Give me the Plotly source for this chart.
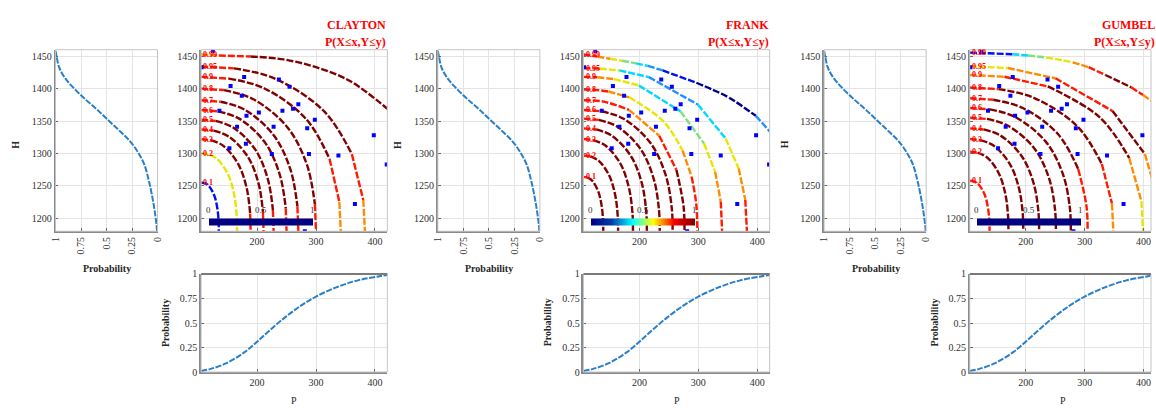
import plotly.graph_objects as go

FIG_W, FIG_H = 1156, 413

# ---------------- data ----------------
LEVEL_LABELS = ["0.99", "0.95", "0.9", "0.8", "0.7", "0.6", "0.5", "0.4", "0.3", "0.2", "0.1"]

H_CDF_H = [1180, 1190, 1223, 1258, 1283, 1300, 1318, 1333, 1350, 1368, 1383, 1403, 1418, 1433, 1450, 1458]
H_CDF_PROB = [0.005, 0.01, 0.04, 0.085, 0.13, 0.185, 0.265, 0.36, 0.475, 0.595, 0.705, 0.835, 0.915, 0.965, 0.99, 1.0]

P_CDF_P = [105, 120, 148, 178, 200, 224, 250, 275, 300, 337, 371, 406, 421]
P_CDF_PROB = [0.01, 0.03, 0.09, 0.2, 0.31, 0.44, 0.57, 0.68, 0.77, 0.87, 0.935, 0.975, 0.99]

OBS_P = [125, 106, 178, 155, 174, 237, 255, 270, 261, 243, 136, 182, 203, 166, 228,
         298, 285, 398, 153, 181, 225, 288, 338, 420, 366, 281]
OBS_H = [1458, 1433, 1418, 1404, 1389, 1414, 1403, 1376, 1369, 1366, 1366, 1358, 1363, 1341, 1341,
         1352, 1339, 1328, 1308, 1315, 1299, 1299, 1297, 1283, 1222, 1180]

CLAYTON_P = [
    [105, 135, 189, 245, 300, 357, 421],
    [105, 160.6, 230, 313.5, 360.8, 380.2, 383],
    [105, 152.4, 211.7, 282.8, 323, 339.6, 342],
    [105, 144, 192.8, 251.3, 284.4, 298, 300],
    [105, 138, 179.3, 228.8, 256.8, 268.4, 270],
    [105, 134, 170.3, 213.8, 238.4, 248.6, 250],
    [105, 129.6, 160.4, 197.3, 218.2, 226.8, 228],
    [105, 126.2, 152.7, 184.5, 202.5, 209.9, 211],
    [105, 121.8, 142.8, 168, 182.3, 188.2, 189],
    [105, 117.2, 132.5, 150.8, 161.1, 165.4, 166],
    [105, 111, 118.5, 127.5, 132.6, 134.7, 135],
]
CLAYTON_H = [
    [1452.5, 1451, 1449.5, 1445, 1433, 1412, 1369],
    [1434, 1431.2, 1415.5, 1365.2, 1298.9, 1228.3, 1180],
    [1418, 1415.4, 1400.6, 1353.5, 1291.4, 1225.2, 1180],
    [1400, 1397.6, 1384, 1340.4, 1283, 1221.8, 1180],
    [1382, 1379.8, 1367.3, 1327.3, 1274.5, 1218.4, 1180],
    [1367, 1364.9, 1353.3, 1316.3, 1267.5, 1215.5, 1180],
    [1352, 1350.1, 1339.4, 1305.4, 1260.5, 1212.7, 1180],
    [1337, 1335.3, 1325.5, 1294.5, 1253.5, 1209.8, 1180],
    [1322, 1320.4, 1311.6, 1283.5, 1246.5, 1207, 1180],
    [1300, 1298.7, 1291.2, 1267.5, 1236.2, 1202.8, 1180],
    [1255, 1254.2, 1249.5, 1234.7, 1215.1, 1194.3, 1180],
]
CLAYTON_C = [
    "o r dr dr dr dr",
    "r dr dr dr r o",
    "r dr dr dr r o",
    "r dr dr dr dr r",
    "r dr dr dr dr r",
    "r dr dr dr dr r",
    "r dr dr dr dr r",
    "r dr dr dr dr r",
    "r dr dr dr dr r",
    "y y y y y y",
    "b b b b b b",
]

FRANK_P = [
    [105, 128.5, 150.4, 170.6, 194.1, 214.3, 239.5, 296.6, 323.5, 352.1, 397.5, 421],
    [105, 132.7, 166, 216, 299.2, 346.3, 368.5, 379.6, 382.4],
    [105, 128.5, 156.8, 199.1, 269.7, 309.7, 328.5, 338, 340.3],
    [105, 124.3, 147.5, 182.3, 240.3, 273.2, 288.6, 296.4, 298.3],
    [105, 139.3, 182.2, 233.6, 262.8, 274.8, 276.5],
    [105, 135.3, 173.1, 218.5, 244.2, 254.8, 256.3],
    [105, 130.9, 163.2, 202.1, 224.1, 233.1, 234.4],
    [105, 126.5, 153.4, 185.7, 204, 211.5, 212.6],
    [105, 121.8, 142.8, 168, 182.3, 188.2, 189],
    [105, 116.8, 131.5, 149.1, 159.1, 163.2, 163.8],
    [105, 111.7, 120.1, 130.2, 135.9, 138.3, 138.6],
]
FRANK_H = [
    [1452.5, 1449.5, 1446, 1443, 1439, 1435, 1428, 1409, 1398.6, 1386, 1358, 1334],
    [1431.5, 1430.9, 1428, 1417.7, 1375.4, 1323.1, 1276.8, 1228.5, 1180],
    [1418, 1417.5, 1414.7, 1404.9, 1364.9, 1315.4, 1271.6, 1225.9, 1180],
    [1398.6, 1398.1, 1395.5, 1386.6, 1349.9, 1304.4, 1264.2, 1222.2, 1180],
    [1382.1, 1379.9, 1367.3, 1327.3, 1274.6, 1219, 1180],
    [1367.1, 1365, 1353.4, 1316.4, 1267.6, 1216.1, 1180],
    [1353.7, 1351.8, 1341, 1306.6, 1261.3, 1213.5, 1180],
    [1338.7, 1337, 1327.1, 1295.7, 1254.3, 1210.6, 1180],
    [1322.2, 1320.6, 1311.8, 1283.7, 1246.5, 1207.4, 1180],
    [1296.8, 1295.5, 1288.3, 1265.1, 1234.7, 1202.5, 1180],
    [1263.8, 1262.9, 1257.7, 1241.1, 1219.2, 1196.2, 1180],
]
FRANK_C = [
    "r o y g c lb b nv nv nv lb",
    "r y c lb c y o r",
    "r o y c g y o r",
    "r r o y y o r r",
    "r r o r dr dr",
    "r dr dr dr dr dr",
    "r dr dr dr dr dr",
    "r dr dr dr dr dr",
    "r dr dr dr dr dr",
    "r dr dr dr dr dr",
    "r dr dr dr dr dr",
]

GUMBEL_P = [
    [105, 135.3, 177.3, 204.2, 234.4, 261.3, 279.8, 306.7, 335.3, 379, 399.2, 421],
    [105, 169.6, 250.4, 347.3, 402.2, 424.8, 428],
    [105, 163.8, 237.4, 325.7, 375.7, 396.3, 399.2],
    [105, 153.7, 214.7, 287.8, 329.2, 346.3, 348.7],
    [105, 145, 195, 255, 289, 303, 305],
    [105, 139.3, 182.2, 233.6, 262.8, 274.8, 276.5],
    [105, 134.2, 170.8, 214.7, 239.5, 249.7, 251.2],
    [105, 128.5, 158, 193.3, 213.3, 221.5, 222.7],
    [105, 123.2, 145.9, 173.1, 188.5, 194.9, 195.8],
    [105, 118.1, 134.5, 154.2, 165.4, 170, 170.6],
    [105, 111.7, 120.1, 130.2, 135.9, 138.3, 138.6],
]
GUMBEL_H = [
    [1455.4, 1454.5, 1453, 1451, 1448, 1444, 1440.5, 1433, 1421, 1402, 1390, 1376],
    [1434.5, 1431.7, 1415.9, 1365.5, 1299.1, 1229.1, 1180],
    [1421, 1418.3, 1403.4, 1355.7, 1292.8, 1226.5, 1180],
    [1401.6, 1399.2, 1385.4, 1341.5, 1283.7, 1222.8, 1180],
    [1385.1, 1382.8, 1370.1, 1329.5, 1276, 1219.6, 1180],
    [1370.1, 1368, 1356.2, 1318.6, 1269, 1216.7, 1180],
    [1355.1, 1353.2, 1342.3, 1307.6, 1261.9, 1213.8, 1180],
    [1338.7, 1337, 1327.1, 1295.7, 1254.3, 1210.6, 1180],
    [1322.2, 1320.6, 1311.8, 1283.7, 1246.5, 1207.4, 1180],
    [1302.8, 1301.4, 1293.8, 1269.5, 1237.5, 1203.7, 1180],
    [1257.8, 1256.9, 1252.1, 1236.7, 1216.4, 1195, 1180],
]
GUMBEL_C = [
    "b b c g y y o r dr r o",
    "y o r dr o y",
    "o r dr dr o y",
    "r dr dr dr r o",
    "r dr dr dr r r",
    "r dr dr dr dr dr",
    "r dr dr dr dr dr",
    "r dr dr dr dr dr",
    "r dr dr dr dr dr",
    "r dr dr dr dr dr",
    "r r r r r r",
]

PANEL_NAMES = ["CLAYTON", "FRANK", "GUMBEL"]
H_TICKS = [1200, 1250, 1300, 1350, 1400, 1450]
P_TICKS = [200, 300, 400]
PROB_TICKS = [0, 0.25, 0.5, 0.75, 1]
PROB_TICK_TEXT = ["0", "0.25", "0.5", "0.75", "1"]

# ---------------- styling ----------------
COLORS = {"dr": "#820000", "r": "#FF1A00", "o": "#FF8C00", "y": "#E6E600", "g": "#7FE07F",
          "c": "#00D8FF", "lb": "#1E90FF", "b": "#0010F0", "nv": "#00008C"}
FONT = "Liberation Serif"
OFFSETS = [0, 386, 776]
PX_PER_P = 316 / 188.0


def xd(a, b):
    return [a / FIG_W, min(b / FIG_W, 1.0)]


def yd(top, bot):
    return [1 - bot / FIG_H, 1 - top / FIG_H]


def kx(k):
    return "xaxis" if k == 1 else f"xaxis{k}"


def ky(k):
    return "yaxis" if k == 1 else f"yaxis{k}"


def rx(k):
    return "x" if k == 1 else f"x{k}"


def ry(k):
    return "y" if k == 1 else f"y{k}"


fig = go.Figure()
layout = dict(width=FIG_W, height=FIG_H, margin=dict(l=0, r=0, t=0, b=0),
              paper_bgcolor="white", plot_bgcolor="white", showlegend=False)
annotations = []
shapes = []

axis_common = dict(showline=True, linecolor="#8a8a8a", linewidth=1.6, ticks="inside", ticklen=3,
                   tickcolor="#666666", tickfont=dict(family=FONT, size=10, color="#303030"),
                   showgrid=True, gridcolor="#e4e4e4", gridwidth=1, zeroline=False, fixedrange=True)

panels = [(CLAYTON_P, CLAYTON_H, CLAYTON_C, "navy"),
          (FRANK_P, FRANK_H, FRANK_C, "jet"),
          (GUMBEL_P, GUMBEL_H, GUMBEL_C, "navy")]

for i, (cp, ch, cc, cbar) in enumerate(panels):
    o = OFFSETS[i]
    km, kmain, kb = 3 * i + 1, 3 * i + 2, 3 * i + 3
    main_right = 385 + o
    p_max = 421 if main_right <= FIG_W else 105 + (FIG_W - (197 + o)) * PX_PER_P

    # --- axes ---
    layout[kx(km)] = dict(axis_common, domain=xd(50 + o, 153 + o), range=[1, 0], anchor=ry(km),
                          tickvals=PROB_TICKS, ticktext=PROB_TICK_TEXT, tickangle=-90)
    layout[ky(km)] = dict(axis_common, domain=yd(45, 232), range=[1180, 1460], anchor=rx(km),
                          tickvals=H_TICKS)
    layout[kx(kmain)] = dict(axis_common, domain=xd(197 + o, main_right), range=[105, p_max],
                             anchor=ry(kmain), tickvals=P_TICKS)
    layout[ky(kmain)] = dict(axis_common, domain=yd(45, 232), range=[1180, 1460], anchor=rx(kmain),
                             tickvals=H_TICKS)
    layout[kx(kb)] = dict(axis_common, domain=xd(197 + o, min(main_right, FIG_W)), range=[105, p_max],
                          anchor=ry(kb), tickvals=P_TICKS)
    layout[ky(kb)] = dict(axis_common, domain=yd(276, 377), range=[0, 1], anchor=rx(kb),
                          tickvals=PROB_TICKS, ticktext=PROB_TICK_TEXT)
    for k in (km, kmain, kb):
        shapes.append(dict(type="rect", xref=f"{rx(k)} domain", yref=f"{ry(k)} domain",
                           x0=0, x1=1, y0=0, y1=1, line=dict(color="#c4c4c4", width=1), layer="above"))
    shapes.append(dict(type="line", xref=f"{rx(kb)} domain", yref=f"{ry(kb)} domain",
                       x0=0, x1=1, y0=1, y1=1, line=dict(color="#7a7a7a", width=2), layer="above"))

    # --- marginal CDF of H ---
    fig.add_trace(go.Scatter(x=H_CDF_PROB, y=H_CDF_H, mode="lines", xaxis=rx(km), yaxis=ry(km),
                             line=dict(color="#2a7fc8", width=2, shape="spline", dash="6px,1.5px"),
                             hoverinfo="skip"))

    # --- contour lines (coloured runs) ---
    for k in range(len(cp)):
        codes = cc[k].split()
        start = 0
        for j in range(1, len(codes) + 1):
            if j == len(codes) or codes[j] != codes[start]:
                fig.add_trace(go.Scatter(
                    x=cp[k][start:j + 1], y=ch[k][start:j + 1], mode="lines",
                    xaxis=rx(kmain), yaxis=ry(kmain), hoverinfo="skip",
                    line=dict(color=COLORS[codes[start]], width=2.4, shape="spline", dash="7px,2px")))
                start = j
        annotations.append(dict(x=105.5, y=ch[k][0], xref=rx(kmain), yref=ry(kmain),
                                text=f"<b>{LEVEL_LABELS[k]}</b>",
                                showarrow=False, xanchor="left", yanchor="middle",
                                font=dict(family=FONT, size=8, color="#FF0000")))

    # --- observations ---
    fig.add_trace(go.Scatter(x=OBS_P, y=OBS_H, mode="markers", xaxis=rx(kmain), yaxis=ry(kmain),
                             marker=dict(color="#0000FF", size=4, symbol="square"), hoverinfo="skip"))

    # --- colour bar ---
    cscale = "Jet" if cbar == "jet" else [[0, "#000080"], [1, "#000080"]]
    cb_left, cb_right = 205 + o, 309 + o
    fig.add_trace(go.Scatter(
        x=[150, 150], y=[2000, 2000], mode="markers", xaxis=rx(kmain), yaxis=ry(kmain), hoverinfo="skip",
        marker=dict(color=[0, 1], cmin=0, cmax=1, colorscale=cscale, size=1, showscale=True,
                    colorbar=dict(orientation="h", x=(cb_left + cb_right) / 2 / FIG_W, xanchor="center",
                                  y=1 - 222 / FIG_H, yanchor="middle", len=cb_right - cb_left,
                                  lenmode="pixels", thickness=7, thicknessmode="pixels",
                                  outlinewidth=0, showticklabels=False, ticks="", xpad=0, ypad=0))))
    for val, xx in (("0", cb_left - 1), ("0.5", (cb_left + cb_right) / 2), ("1", cb_right)):
        annotations.append(dict(x=xx / FIG_W, y=1 - 210 / FIG_H, xref="paper", yref="paper", text=val,
                                showarrow=False, xanchor="center", yanchor="middle",
                                font=dict(family=FONT, size=9, color="#333333")))

    # --- marginal CDF of P ---
    fig.add_trace(go.Scatter(x=P_CDF_P, y=P_CDF_PROB, mode="lines", xaxis=rx(kb), yaxis=ry(kb),
                             line=dict(color="#2a7fc8", width=2, shape="spline", dash="6px,1.5px"),
                             hoverinfo="skip"))

    # --- titles and axis titles ---
    annotations += [
        dict(x=(386 + o) / FIG_W, y=1 - 20 / FIG_H, xref="paper", yref="paper", text="<b>" + PANEL_NAMES[i] + "</b>",
             showarrow=False, xanchor="right", yanchor="middle",
             font=dict(family=FONT, size=12, color="#FF0000")),
        dict(x=(386 + o) / FIG_W, y=1 - 37 / FIG_H, xref="paper", yref="paper", text="<b>P(X≤x,Y≤y)</b>",
             showarrow=False, xanchor="right", yanchor="middle",
             font=dict(family=FONT, size=12, color="#FF0000")),
        dict(x=(10 + o) / FIG_W, y=1 - 143 / FIG_H, xref="paper", yref="paper", text="<b>H</b>",
             showarrow=False, textangle=-90, xanchor="center", yanchor="middle",
             font=dict(family=FONT, size=10, color="#262626")),
        dict(x=(102 + o) / FIG_W, y=1 - 270 / FIG_H, xref="paper", yref="paper", text="<b>Probability</b>",
             showarrow=False, xanchor="center", yanchor="middle",
             font=dict(family=FONT, size=10, color="#262626")),
        dict(x=(161 + o) / FIG_W, y=1 - 326 / FIG_H, xref="paper", yref="paper", text="<b>Probability</b>",
             showarrow=False, textangle=-90, xanchor="center", yanchor="middle",
             font=dict(family=FONT, size=10, color="#262626")),
        dict(x=(291 + o) / FIG_W, y=1 - 406 / FIG_H, xref="paper", yref="paper", text="P",
             showarrow=False, xanchor="center", yanchor="middle",
             font=dict(family=FONT, size=10, color="#262626")),
    ]

layout["annotations"] = annotations
layout["shapes"] = shapes
fig.update_layout(**layout)
fig.write_html("out.html")
